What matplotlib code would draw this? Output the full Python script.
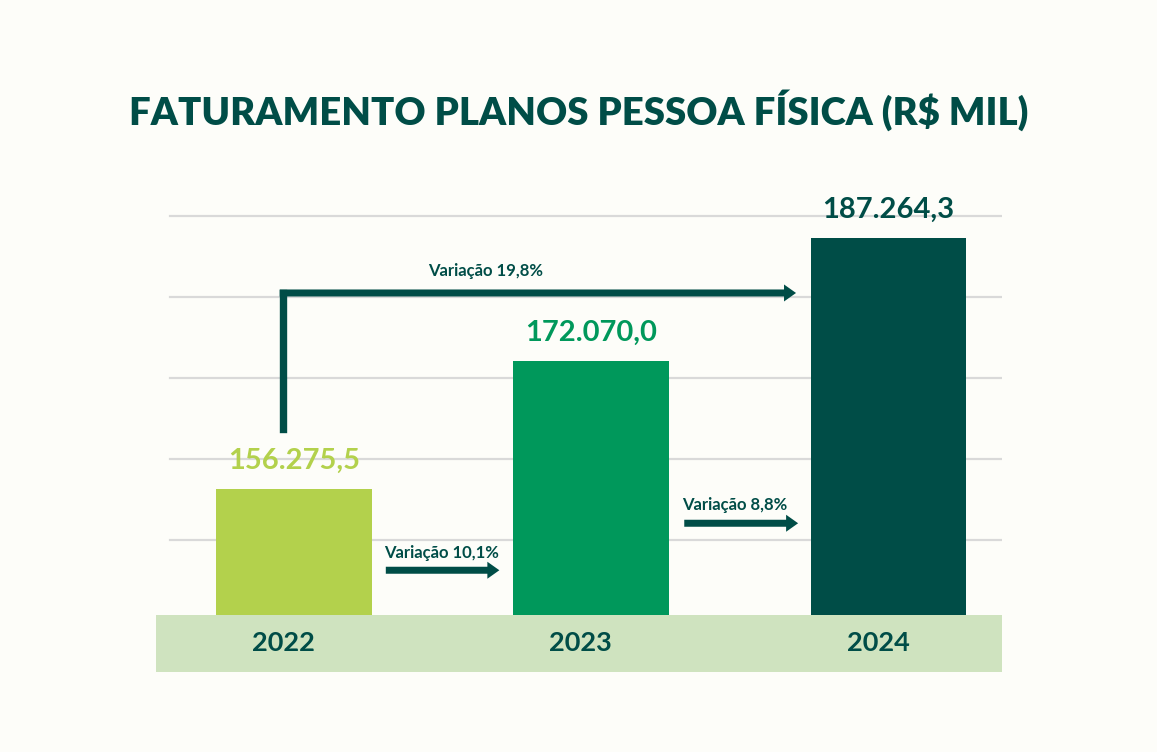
import matplotlib.pyplot as plt
import numpy as np

years = ["2022", "2023", "2024"]
valores = [156275.5, 172070.0, 187264.3]
rotulos = ["156.275,5", "172.070,0", "187.264,3"]
var_labels = ["Variação 10,1%", "Variação 8,8%", "Variação 19,8%"]

DARK = "#004d47"
MID = "#00985b"
LIGHT = "#b3d14c"
BAND = "#cfe3bf"
GRID = "#d9d9d9"
BG = "#fdfdf9"
bar_colors = [LIGHT, MID, DARK]

plt.rcParams['font.family'] = ['Lato', 'DejaVu Sans']

base = 140756
fig = plt.figure(figsize=(11.57, 7.52), dpi=100, facecolor=BG)
ax = fig.add_axes([0.1346, 0.1068, 0.7312, 0.6406])
ax.set_facecolor(BG)
ax.set_xlim(-0.465, 2.381)
ax.set_ylim(133750, 193230)
for s in ax.spines.values():
    s.set_visible(False)
ax.set_xticks([])
ax.set_yticks([])

# linhas de grade
for g in np.arange(150000, 190001, 10000):
    ax.plot([-0.416, 2.381], [g, g], color=GRID, lw=1.6, zorder=0)

# faixa inferior
ax.axhspan(133750, base, color=BAND, lw=0, zorder=1)

x = np.arange(len(years))
heights = [v - base for v in valores]
ax.bar(x, heights, bottom=base, width=0.5235, color=bar_colors, zorder=2)

for i in range(len(years)):
    ax.text(x[i], valores[i] + 1900, rotulos[i], ha='center', va='bottom',
            fontsize=21, fontweight='bold', color=bar_colors[i])
    ax.text(x[i] - 0.035, 137300, years[i], ha='center', va='center',
            fontsize=19.5, fontweight='bold', color=DARK)

arrow_style = "simple,head_length=0.36,head_width=0.51,tail_width=0.21"


def seta(x0, x1, y):
    ax.annotate("", xy=(x1, y), xytext=(x0, y),
                arrowprops=dict(arrowstyle=arrow_style, color=DARK, lw=0,
                                mutation_scale=24, shrinkA=0, shrinkB=0),
                zorder=3)


# setas entre as barras
seta(0.309, 0.691, 146275)
ax.text(0.304, 148410, var_labels[0], ha='left', va='center',
        fontsize=12, fontweight='bold', color=DARK)
seta(1.313, 1.696, 152077)
ax.text(1.306, 154337, var_labels[1], ha='left', va='center',
        fontsize=12, fontweight='bold', color=DARK)

# seta 2022 -> 2024
ax.plot([-0.036, -0.036], [163720, 180510], color=DARK, lw=5.3,
        solid_capstyle='projecting', zorder=3)
seta(-0.048, 1.689, 180510)
ax.text(0.643, 183263, var_labels[2], ha='center', va='center',
        fontsize=12, fontweight='bold', color=DARK)

fig.text(0.5, 0.854, "FATURAMENTO PLANOS PESSOA FÍSICA (R$ MIL)",
         ha='center', va='center', fontsize=27.5, fontweight='heavy', color=DARK)

fig.savefig("out.png", dpi=100, facecolor=BG)
